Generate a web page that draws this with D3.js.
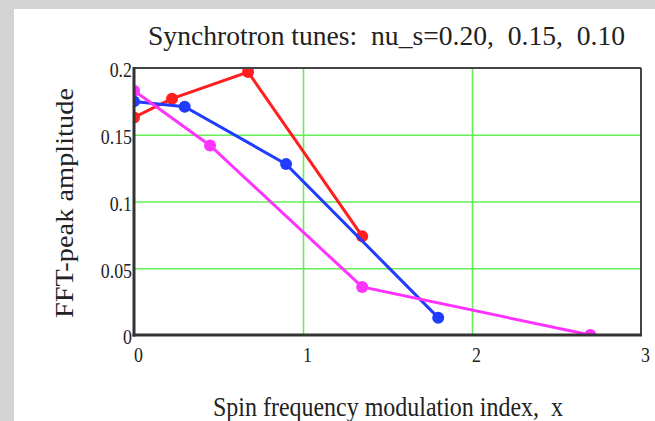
<!DOCTYPE html>
<html><head><meta charset="utf-8">
<script src="https://cdn.jsdelivr.net/npm/d3@7"></script>
<style>
html,body{margin:0;padding:0;background:#fff;}
svg{display:block;}
text{font-family:"Liberation Serif","Times New Roman",serif;fill:#222;white-space:pre;}
</style></head>
<body><svg id="c" width="655" height="421"></svg>
<script>
// Data
const redX = [0, 0.225, 0.675, 1.35];
const redY = [0.163, 0.177, 0.197, 0.074];
const blueX = [0, 0.3, 0.9, 1.8];
const blueY = [0.175, 0.171, 0.128, 0.013];
const magentaX = [0, 0.45, 1.35, 2.7];
const magentaY = [0.183, 0.142, 0.036, 0.0];
const xTicks = [0, 1, 2, 3];
const yTicks = [0, 0.05, 0.1, 0.15, 0.2];
const yTickLabels = ["0", "0.05", "0.1", "0.15", "0.2"];
const titleText = "Synchrotron tunes:  nu_s=0.20,  0.15,  0.10";
const xLabel = "Spin frequency modulation index,  x";
const yLabel = "FFT-peak amplitude";

const svg = d3.select("#c");
// gray border
svg.append("rect").attr("x",0).attr("y",0).attr("width",655).attr("height",421).attr("fill","#d4d4d4");
svg.append("rect").attr("x",14).attr("y",9).attr("width",641).attr("height",412).attr("fill","#fff");

const L=134, R=641, T=68, B=335;
const x = d3.scaleLinear().domain([0,3]).range([L,R]);
const y = d3.scaleLinear().domain([0,0.2]).range([B,T]);

function fit(sel, factor){
  sel.each(function(){
    const w=this.getComputedTextLength();
    this.setAttribute("textLength", w*factor);
    this.setAttribute("lengthAdjust","spacingAndGlyphs");
  });
}

// gridlines
const gx = svg.append("g").attr("transform",`translate(0,${B})`)
  .call(d3.axisBottom(x).tickValues([1,2]).tickSize(-(B-T)).tickFormat(""));
gx.select(".domain").remove();
gx.selectAll("line").attr("stroke","#66ee55").attr("stroke-width",1.6);
const gy = svg.append("g").attr("transform",`translate(${L},0)`)
  .call(d3.axisLeft(y).tickValues([0.05,0.1,0.15]).tickSize(-(R-L)).tickFormat(""));
gy.select(".domain").remove();
gy.selectAll("line").attr("stroke","#66ee55").attr("stroke-width",1.6);

// series
svg.append("defs").append("clipPath").attr("id","clip")
  .append("rect").attr("x",L).attr("y",T).attr("width",R-L).attr("height",B-T);
const series = [
  {xs:redX, ys:redY, c:"#ff1f1f"},
  {xs:blueX, ys:blueY, c:"#1f3cff"},
  {xs:magentaX, ys:magentaY, c:"#ff33ff"}
];
const plot = svg.append("g").attr("clip-path","url(#clip)");
const line = d3.line().x(d=>x(d[0])).y(d=>y(d[1]));
series.forEach(s=>{
  const pts = s.xs.map((v,i)=>[v,s.ys[i]]);
  plot.append("path").datum(pts).attr("d",line).attr("fill","none")
    .attr("stroke",s.c).attr("stroke-width",3);
  plot.selectAll(null).data(pts).enter().append("circle")
    .attr("cx",d=>x(d[0])).attr("cy",d=>y(d[1])).attr("r",6).attr("fill",s.c);
});

// frame
svg.append("line").attr("x1",L).attr("x2",R).attr("y1",T).attr("y2",T).attr("stroke","#444").attr("stroke-width",2);
svg.append("line").attr("x1",R).attr("x2",R).attr("y1",T).attr("y2",B).attr("stroke","#444").attr("stroke-width",2);
svg.append("line").attr("x1",L).attr("x2",L).attr("y1",T-1).attr("y2",B+1.5).attr("stroke","#333").attr("stroke-width",3);
svg.append("line").attr("x1",L-1.5).attr("x2",R+1).attr("y1",B).attr("y2",B).attr("stroke","#333").attr("stroke-width",3);

// y tick labels
const ya = svg.append("g").attr("transform",`translate(${L-2},0)`)
  .call(d3.axisLeft(y).tickValues(yTicks).tickSize(0).tickPadding(0)
    .tickFormat((d,i)=>yTickLabels[i]));
ya.select(".domain").remove();
ya.selectAll("text").attr("font-size",21).attr("fill","#333")
  .attr("font-family","Liberation Serif, serif").attr("dy","0.42em");
fit(ya.selectAll("text"),0.85);

// x tick labels
const xa = svg.append("g").attr("transform",`translate(4,${B})`)
  .call(d3.axisBottom(x).tickValues(xTicks).tickSize(0).tickPadding(12).tickFormat(d3.format("d")));
xa.select(".domain").remove();
xa.selectAll("text").attr("font-size",21).attr("fill","#333")
  .attr("font-family","Liberation Serif, serif");
fit(xa.selectAll("text"),0.85);

// title
svg.append("text").attr("x",386.5).attr("y",45).attr("text-anchor","middle")
  .attr("font-size",28).text(titleText)
  .attr("textLength",477).attr("lengthAdjust","spacingAndGlyphs");
// x label
svg.append("text").attr("x",388).attr("y",416).attr("text-anchor","middle")
  .attr("font-size",27).text(xLabel)
  .attr("textLength",350).attr("lengthAdjust","spacingAndGlyphs");
// y label
svg.append("text").attr("transform","translate(73,203) rotate(-90)").attr("text-anchor","middle")
  .attr("font-size",26).text(yLabel)
  .attr("textLength",230).attr("lengthAdjust","spacingAndGlyphs");
</script></body></html>
